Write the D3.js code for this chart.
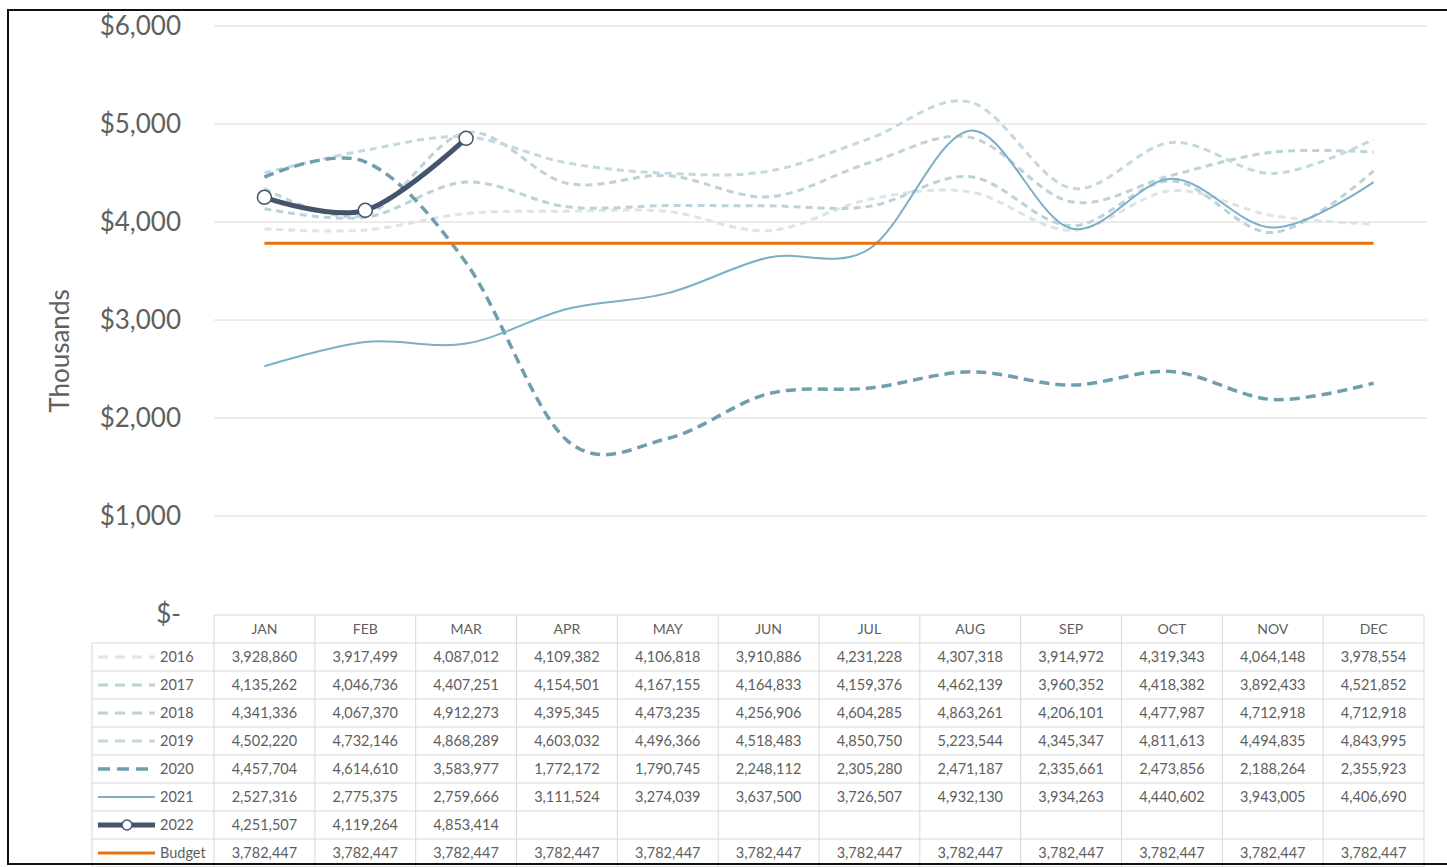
<!DOCTYPE html>
<html>
<head>
<meta charset="utf-8">
<script src="https://cdn.jsdelivr.net/npm/d3@7"></script>
<style>
  html, body { margin: 0; padding: 0; background: #fff; }
  svg { display: block; font-family: Lato, "Open Sans", sans-serif; }
</style>
</head>
<body>
<svg id="chart" width="1447" height="867"></svg>
<script>
// Monthly revenue by year, with the flat budget line
const months = ["JAN","FEB","MAR","APR","MAY","JUN","JUL","AUG","SEP","OCT","NOV","DEC"];
const yTicks = [0, 1000000, 2000000, 3000000, 4000000, 5000000, 6000000];

const v2016 = [3928860, 3917499, 4087012, 4109382, 4106818, 3910886, 4231228, 4307318, 3914972, 4319343, 4064148, 3978554];
const v2017 = [4135262, 4046736, 4407251, 4154501, 4167155, 4164833, 4159376, 4462139, 3960352, 4418382, 3892433, 4521852];
const v2018 = [4341336, 4067370, 4912273, 4395345, 4473235, 4256906, 4604285, 4863261, 4206101, 4477987, 4712918, 4712918];
const v2019 = [4502220, 4732146, 4868289, 4603032, 4496366, 4518483, 4850750, 5223544, 4345347, 4811613, 4494835, 4843995];
const v2020 = [4457704, 4614610, 3583977, 1772172, 1790745, 2248112, 2305280, 2471187, 2335661, 2473856, 2188264, 2355923];
const v2021 = [2527316, 2775375, 2759666, 3111524, 3274039, 3637500, 3726507, 4932130, 3934263, 4440602, 3943005, 4406690];
const v2022 = [4251507, 4119264, 4853414];
const vBudget = [3782447, 3782447, 3782447, 3782447, 3782447, 3782447, 3782447, 3782447, 3782447, 3782447, 3782447, 3782447];

const series = [
  { name: "2016",   values: v2016,   color: "#dde4e7", width: 3,   dash: "7,5" },
  { name: "2017",   values: v2017,   color: "#bcd2da", width: 3,   dash: "7,5" },
  { name: "2018",   values: v2018,   color: "#bdd3d8", width: 3,   dash: "7,5" },
  { name: "2019",   values: v2019,   color: "#c2d9e2", width: 3,   dash: "7,5" },
  { name: "2020",   values: v2020,   color: "#6f9fac", width: 3.5, dash: "10,6" },
  { name: "2021",   values: v2021,   color: "#7cafc7", width: 2,   dash: null },
  { name: "2022",   values: v2022,   color: "#44546a", width: 5,   dash: null, markers: true },
  { name: "Budget", values: vBudget, color: "#e8720c", width: 3,   dash: null }
];

const svg = d3.select("#chart");
const fmt = d3.format(",");

// Layout
const tableLeft = 214, tableRight = 1424;
const legendLeft = 92;
const headerTop = 615, headerH = 28, rowH = 28;

const x = d3.scaleBand().domain(months).range([tableLeft, tableRight]);
const xc = m => x(m) + x.bandwidth() / 2;
const y = d3.scaleLinear().domain([0, 6000000]).range([614, 26]);

// Gridlines
svg.append("g").selectAll("line").data(yTicks.slice(1)).join("line")
  .attr("x1", tableLeft).attr("x2", 1427)
  .attr("y1", d => y(d)).attr("y2", d => y(d))
  .attr("stroke", "#dadada").attr("stroke-width", 1);

// Value axis labels
const yAxis = d3.axisLeft(y).tickValues(yTicks)
  .tickFormat(d => d === 0 ? "$-" : "$" + fmt(d / 1000))
  .tickSize(0).tickPadding(0);
const gy = svg.append("g").attr("transform", "translate(181,0)").call(yAxis);
gy.select(".domain").remove();
gy.selectAll("text").attr("font-size", 26).attr("fill", "#606060")
  .attr("font-family", "Lato, 'Open Sans', sans-serif");

svg.append("text").attr("transform", "translate(69,351) rotate(-90)")
  .attr("text-anchor", "middle").attr("font-size", 26).attr("fill", "#606060")
  .text("Thousands");

// Lines
const line = d3.line().x((d, i) => xc(months[i])).y(d => y(d)).curve(d3.curveCatmullRom.alpha(0));
const gl = svg.append("g");
series.forEach(s => {
  gl.append("path").datum(s.values)
    .attr("d", line).attr("fill", "none")
    .attr("stroke", s.color).attr("stroke-width", s.width)
    .attr("stroke-dasharray", s.dash).attr("stroke-linecap", "butt");
  if (s.markers) {
    gl.selectAll(null).data(s.values).join("circle")
      .attr("cx", (d, i) => xc(months[i])).attr("cy", d => y(d)).attr("r", 7)
      .attr("fill", "#fff").attr("stroke", s.color).attr("stroke-width", 1.5);
  }
});

// Data table
const gt = svg.append("g");
const gridColor = "#d8d8d8";
const tableBottom = headerTop + headerH + rowH * series.length;

// header
gt.selectAll(null).data(months).join("text")
  .attr("x", m => xc(m)).attr("y", headerTop + headerH / 2 + 5)
  .attr("text-anchor", "middle").attr("font-size", 14).attr("fill", "#5e5e5e")
  .text(m => m);

// horizontal rules
const hLines = d3.range(series.length + 2).map(i => headerTop + (i === 0 ? 0 : headerH + rowH * (i - 1)));
gt.selectAll(null).data(hLines).join("line")
  .attr("x1", (d, i) => i === 0 ? tableLeft : legendLeft).attr("x2", tableRight)
  .attr("y1", d => d).attr("y2", d => d)
  .attr("stroke", gridColor).attr("stroke-width", 1);

// vertical rules
const vLines = months.map(m => x(m)).concat([tableRight]);
gt.selectAll(null).data(vLines).join("line")
  .attr("x1", d => d).attr("x2", d => d)
  .attr("y1", headerTop).attr("y2", tableBottom)
  .attr("stroke", gridColor).attr("stroke-width", 1);
gt.append("line").attr("x1", legendLeft).attr("x2", legendLeft)
  .attr("y1", headerTop + headerH).attr("y2", tableBottom)
  .attr("stroke", gridColor).attr("stroke-width", 1);

// rows
series.forEach((s, r) => {
  const cy = headerTop + headerH + rowH * r + rowH / 2;
  // legend key
  gt.append("line").attr("x1", 98).attr("x2", 155).attr("y1", cy).attr("y2", cy)
    .attr("stroke", s.color).attr("stroke-width", s.width)
    .attr("stroke-dasharray", s.dash ? (s.name === "2020" ? "12,7" : "10,7") : null);
  if (s.markers) {
    gt.append("circle").attr("cx", 127).attr("cy", cy).attr("r", 5)
      .attr("fill", "#fff").attr("stroke", s.color).attr("stroke-width", 1.5);
  }
  gt.append("text").attr("x", 160).attr("y", cy + 5)
    .attr("font-size", 14.5).attr("fill", "#5e5e5e").text(s.name);
  // values
  gt.selectAll(null).data(s.values).join("text")
    .attr("x", (d, i) => xc(months[i])).attr("y", cy + 5)
    .attr("text-anchor", "middle").attr("font-size", 14.5).attr("fill", "#5e5e5e")
    .text(d => fmt(d));
});

// Outer frame
svg.append("path")
  .attr("d", "M1447,10 L8,10 L8,864 L1447,864")
  .attr("fill", "none").attr("stroke", "#111").attr("stroke-width", 2);
</script>
</body>
</html>
